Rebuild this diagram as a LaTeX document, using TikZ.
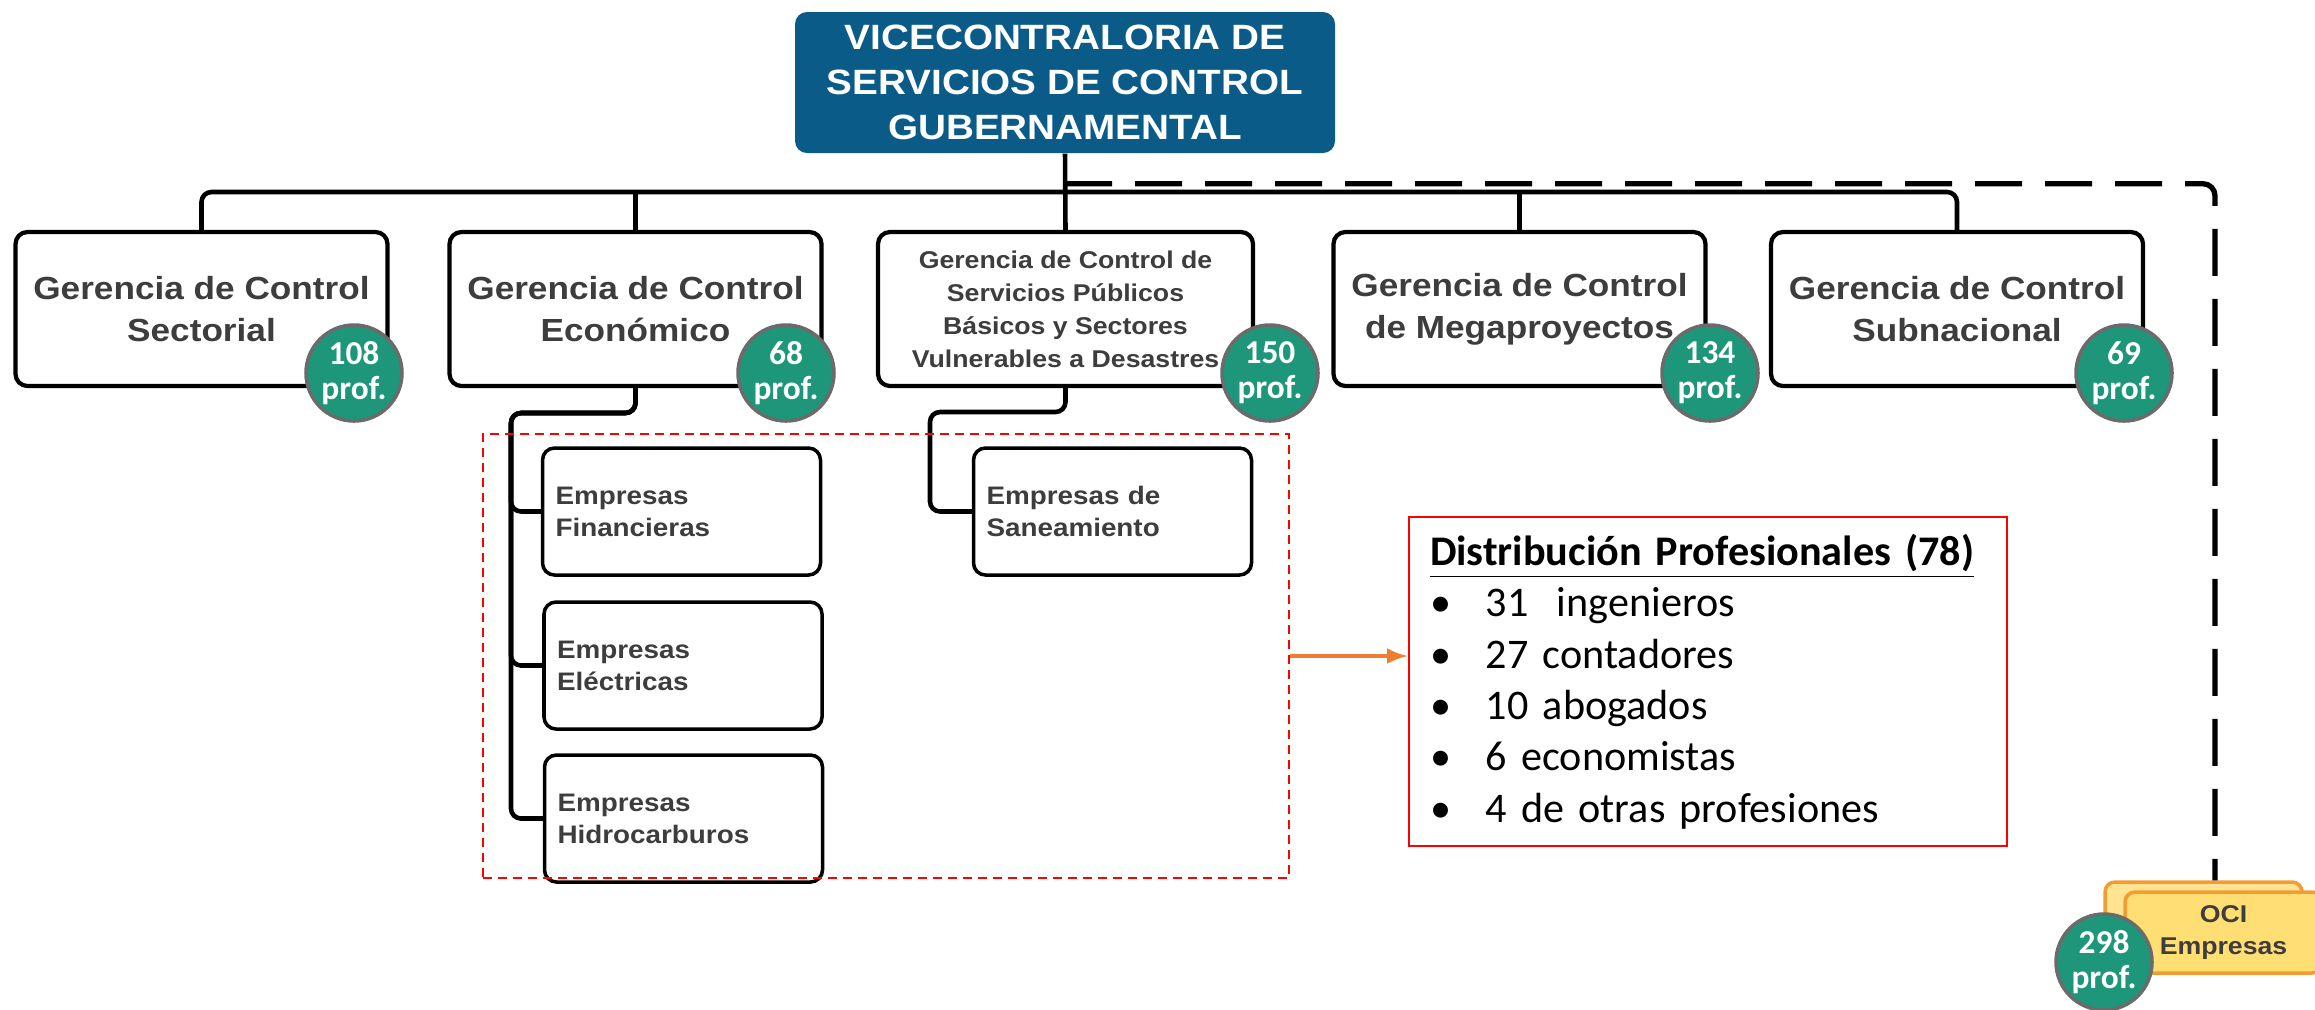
\documentclass[tikz,border=0pt]{standalone}
\usepackage{fontspec}
\usepackage{tikz}
\usetikzlibrary{arrows,shapes,calc}
\newfontfamily\lucid[FakeStretch=1.1]{Liberation Sans}
\newfontfamily\carlito{Carlito}
\definecolor{vicecol}{HTML}{0B5B88}
\definecolor{boxtext}{HTML}{3D3D3D}
\definecolor{badgecol}{HTML}{1E967A}
\definecolor{badgeedge}{HTML}{6B6B6B}
\definecolor{ocicol}{HTML}{F39C34}
\definecolor{ociback}{HTML}{FFE591}
\definecolor{ocifront}{HTML}{FFDE73}
\definecolor{arrowcol}{HTML}{ED7D31}
\tikzset{
  linkline/.style={line width=1.3pt, rounded corners=0.1cm},
  dashline/.style={line width=1.5pt, rounded corners=0.12cm, dash pattern=on 0.47cm off 0.23cm},
  vicebox/.style={fill=vicecol, rounded corners=0.12cm, minimum width=5.4cm, minimum height=1.41cm, align=center, text=white, font=\lucid\bfseries\fontsize{10}{12.8}\selectfont},
  gerbox/.style={draw, fill=white, line width=1.2pt, rounded corners=0.12cm, minimum width=3.72cm, minimum height=1.54cm, align=center, text=boxtext, font=\lucid\bfseries\fontsize{9.1}{12}\selectfont},
  empbox/.style={draw, fill=white, line width=1pt, rounded corners=0.12cm, minimum width=2.78cm, minimum height=1.27cm, text width=2.52cm, align=left, text=boxtext, font=\lucid\bfseries\fontsize{7.2}{9.1}\selectfont},
  profbadge/.style={circle, fill=badgecol, draw=badgeedge, line width=1pt, minimum size=0.96cm, inner sep=0pt, align=center, text=white, font=\carlito\bfseries\fontsize{9.5}{10}\selectfont},
  ocistack/.style={draw=ocicol, line width=1pt, rounded corners=0.1cm, minimum width=1.97cm, align=center, text=boxtext, font=\lucid\bfseries\fontsize{6.9}{9}\selectfont},
  grupobox/.style={draw=red, line width=0.7pt, dash pattern=on 0.09cm off 0.06cm, minimum width=8.06cm, minimum height=4.44cm},
  distbox/.style={draw=red, line width=0.8pt, minimum width=5.98cm, minimum height=3.29cm, inner xsep=0.21cm, text width=5.56cm, align=left, font=\carlito\fontsize{12}{14.6}\selectfont},
  orangearrow/.style={draw=arrowcol, line width=1pt, -latex}
}
\newcommand{\gerencia}[2]{node[gerbox](#1) {#2}}
\newcommand{\empresa}[2]{node[empbox](#1) {#2}}
\newcommand{\profs}[2]{node[profbadge](#1) {#2\\prof.}}
\newcommand{\distitem}[1]{\makebox[0.56cm][l]{•}#1}
\begin{document}
\begin{tikzpicture}
\useasboundingbox (0,0) rectangle (23.15,-10.09);
\draw (10.65,-0.825) node[vicebox](vice) {VICECONTRALORIA DE\\SERVICIOS DE CONTROL\\GUBERNAMENTAL};
\draw (2.015,-3.09) \gerencia{sec}{Gerencia de Control\\Sectorial};
\draw (6.355,-3.09) \gerencia{eco}{Gerencia de Control\\Económico};
\draw (10.655,-3.09) node[gerbox, minimum width=3.75cm, font=\lucid\bfseries\fontsize{6.9}{9.4}\selectfont](serv) {Gerencia de Control de\\Servicios Públicos\\Básicos y Sectores\\Vulnerables a Desastres};
\draw (15.195,-3.09) \gerencia{mega}{Gerencia de Control\\de Megaproyectos};
\draw (19.57,-3.09) \gerencia{sub}{Gerencia de Control\\Subnacional};
\coordinate (busc) at (10.65,-1.92);
\draw[linkline] (sec.north) |- (busc) -| (sub.north);
\draw[linkline] (vice.south) -- (serv.north);
\draw[linkline] (eco.north) -- (eco.north |- busc);
\draw[linkline] (mega.north) -- (mega.north |- busc);
\draw (22.035,-9.235) node[ocistack, fill=ociback, minimum height=0.83cm](ocib) {};
\draw (22.235,-9.325) node[ocistack, fill=ocifront, minimum height=0.81cm](ocif) {OCI\\Empresas};
\draw[dashline] ($(vice.south)+(0,-0.30)$) -| ([xshift=0.115cm]ocib.north);
\draw (6.815,-5.115) \empresa{fin}{Empresas\\Financieras};
\draw (6.83,-6.655) \empresa{ele}{Empresas\\Eléctricas};
\draw (6.835,-8.185) \empresa{hid}{Empresas\\Hidrocarburos};
\draw (11.125,-5.115) \empresa{san}{Empresas de\\Saneamiento};
\coordinate (ecojoint) at (5.11,-4.13);
\foreach \emp in {fin,ele,hid}
  \draw[linkline] (eco.south) |- (ecojoint) |- (\emp.west);
\coordinate (servjoint) at (9.30,-4.12);
\draw[linkline] (serv.south) |- (servjoint) |- (san.west);
\draw (3.54,-3.73) \profs{psec}{108};
\draw (7.86,-3.73) \profs{peco}{68};
\draw (12.70,-3.73) \profs{pserv}{150};
\draw (17.10,-3.73) \profs{pmega}{134};
\draw (21.24,-3.73) \profs{psub}{69};
\draw (21.04,-9.62) \profs{poci}{298};
\draw (8.86,-6.56) node[grupobox](grupo) {};
\draw (17.08,-6.815) node[distbox](dist) {\underline{\textbf{Distribución Profesionales (78)}}\\
  \distitem{31~ ingenieros}\\
  \distitem{27 contadores}\\
  \distitem{10 abogados}\\
  \distitem{6 economistas}\\
  \distitem{4 de otras profesiones}};
\draw[orangearrow] (grupo.east) -- (grupo.east -| dist.west);
\end{tikzpicture}
\end{document}
